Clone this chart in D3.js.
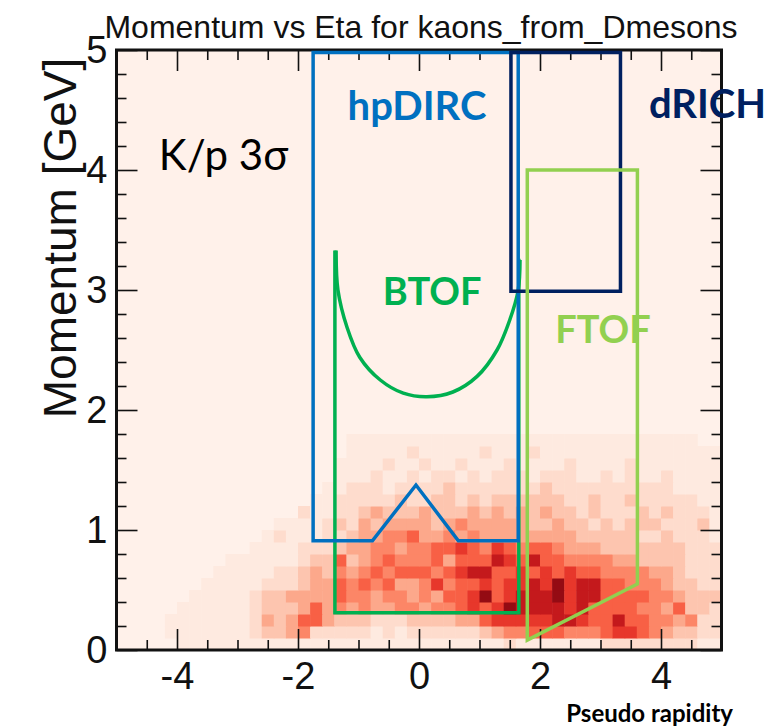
<!DOCTYPE html>
<html><head><meta charset="utf-8">
<script src="https://cdn.jsdelivr.net/npm/d3@7"></script>
<style>body{margin:0;background:#fff}</style>
</head><body><svg id="c" width="769" height="726"></svg>
<script>
// ---------- data ----------
const chartTitle = "Momentum vs Eta for kaons_from_Dmesons";
const xTitle = "Pseudo rapidity";
const yTitle = "Momentum [GeV]";
const etaDomain = [-5, 5];
const pDomain = [0, 5];
const xMajorTicks = [-4, -2, 0, 2, 4];
const yMajorTicks = [0, 1, 2, 3, 4, 5];
const etaBinWidth = 0.2;
const pBinWidth = 0.1;
// 2D histogram intensity (0-9), row 0 = lowest momentum bin, 50 eta bins per row
const heatRows = [
  "0000011111 1111111111 1111111111 1121111111 2222222211",
  "0000111111 1233452222 2121222222 3455666555 6776543322",
  "0000111111 1243466433 3222333344 6777778876 6866554522",
  "0000011111 1233346454 5445545567 6798888786 6665546332",
  "0000001111 1233444465 5455454667 9678889788 6666554333",
  "0000000111 1122234465 6564457566 7677879788 6655543322",
  "0000000011 1112234354 5656665678 8667676766 5555443222",
  "0000000001 1111123363 4565556466 6876866555 5443333222",
  "0000000000 0111122234 4554556676 5765665444 3333333222",
  "0000000000 0012111223 4455644545 4444444433 3332232221",
  "0000000000 0001111232 4344443454 4444334332 3233322231",
  "0000000000 0000021122 3433343334 3434343323 2223232221",
  "0000000000 0000001122 2223223323 2333333223 2232222211",
  "0000000000 0000000112 2212222322 2222232222 2222221111",
  "0000000000 0000000011 1211212212 1222122211 2121121111",
  "0000000000 0000000011 1121121121 1121111211 1121111111",
  "0000000000 0000000001 1111211111 2111211111 1111111111",
  "0000000000 0000000001 1111111111 1111111111 1111111100"
];
// detector acceptance outlines (eta, p)
const hpdircEta = [-1.75, 1.64, 1.64, 0.65, -0.05, -0.77, -1.75];
const hpdircP   = [4.98, 4.98, 0.91, 0.91, 1.375, 0.91, 0.91];
const drichEta  = [1.52, 3.33, 3.33, 1.52];
const drichP    = [4.98, 4.98, 2.99, 2.99];
const ftofEta   = [1.79, 3.61, 3.61, 1.79];
const ftofP     = [4.0, 4.0, 0.55, 0.083];
const btofEta   = [-1.39, -1.39, 1.65, 1.65];
const btofP     = [3.33, 0.31, 0.31, 3.26];
const btofCurveEta = [-1.37, -1.34, -1.19, -0.98, -0.64, -0.26, 0.13, 0.56, 0.96, 1.29, 1.50, 1.64, 1.67];
const btofCurveP   = [3.33, 3.0, 2.69, 2.44, 2.25, 2.14, 2.11, 2.15, 2.28, 2.5, 2.75, 3.0, 3.25];
const labels = [
  {text: "hpDIRC", eta: -1.18, p: 4.42, color: "#0070C0", bold: true, size: 40},
  {text: "dRICH",  eta: 3.8,  p: 4.43, color: "#002060", bold: true, size: 40},
  {text: "BTOF",   eta: -0.6, p: 2.875, color: "#00B050", bold: true, size: 38},
  {text: "FTOF",   eta: 2.25, p: 2.56, color: "#92D050", bold: true, size: 38},
  {text: "K/p 3σ", eta: -4.3, p: 4.0,  color: "#000000", bold: false, size: 42}
];

// ---------- drawing ----------
const svg = d3.select("#c");
const L = 116.5, R = 721.5, T = 50, B = 650;
const x = d3.scaleLinear().domain(etaDomain).range([L, R]);
const y = d3.scaleLinear().domain(pDomain).range([B, T]);
const color = d3.scaleSequentialPow(t => d3.interpolateReds(0.025 + 0.95 * t)).exponent(1.4).domain([0, 9.5]);

svg.append("rect").attr("width", 769).attr("height", 726).attr("fill", "#fff");
svg.append("rect").attr("x", L).attr("y", T).attr("width", R - L).attr("height", B - T).attr("fill", color(0));

const cells = [];
heatRows.forEach((row, j) => {
  row.replace(/ /g, "").split("").forEach((ch, k) => {
    const v = +ch;
    if (v > 0) cells.push({eta: etaDomain[0] + k * etaBinWidth, p: j * pBinWidth, v});
  });
});
svg.append("g").selectAll("rect").data(cells).join("rect")
  .attr("x", d => x(d.eta))
  .attr("y", d => y(d.p + pBinWidth))
  .attr("width", d => x(d.eta + etaBinWidth) - x(d.eta) + 0.5)
  .attr("height", d => y(d.p) - y(d.p + pBinWidth) + 0.5)
  .attr("fill", d => color(d.v));

// axes (ticks inward on all four sides)
const xMinor = d3.range(-5, 5.001, 0.5).filter(v => !xMajorTicks.includes(v));
const yMinor = d3.range(0, 5.001, 0.2).map(v => +v.toFixed(1)).filter(v => !yMajorTicks.includes(v));
const fmt = d => String(d);
function styleAxis(g) {
  g.select(".domain").remove();
  g.selectAll("line").attr("stroke", "#111").attr("stroke-width", 1.6);
  g.selectAll("text").attr("font-family", "Liberation Sans, Arial, sans-serif").attr("font-size", 38).attr("fill", "#111");
}
svg.append("g").attr("transform", `translate(0,${B})`).call(d3.axisBottom(x).tickValues(xMinor).tickSize(-10).tickFormat("")).call(styleAxis);
svg.append("g").attr("transform", `translate(0,${B})`).call(d3.axisBottom(x).tickValues(xMajorTicks).tickSize(-21).tickPadding(12).tickFormat(fmt)).call(styleAxis);
svg.append("g").attr("transform", `translate(0,${T})`).call(d3.axisTop(x).tickValues(xMinor).tickSize(-10).tickFormat("")).call(styleAxis);
svg.append("g").attr("transform", `translate(0,${T})`).call(d3.axisTop(x).tickValues(xMajorTicks).tickSize(-21).tickFormat("")).call(styleAxis);
svg.append("g").attr("transform", `translate(${L},0)`).call(d3.axisLeft(y).tickValues(yMinor).tickSize(-10).tickFormat("")).call(styleAxis);
svg.append("g").attr("transform", `translate(${L},0)`).call(d3.axisLeft(y).tickValues(yMajorTicks).tickSize(-21).tickPadding(9).tickFormat(fmt)).call(styleAxis);
svg.append("g").attr("transform", `translate(${R},0)`).call(d3.axisRight(y).tickValues(yMinor).tickSize(-10).tickFormat("")).call(styleAxis);
svg.append("g").attr("transform", `translate(${R},0)`).call(d3.axisRight(y).tickValues(yMajorTicks).tickSize(-21).tickFormat("")).call(styleAxis);

svg.append("rect").attr("x", L).attr("y", T).attr("width", R - L).attr("height", B - T)
  .attr("fill", "none").attr("stroke", "#111").attr("stroke-width", 3);

// titles
svg.append("text").attr("x", 421).attr("y", 38).attr("text-anchor", "middle")
  .attr("font-family", "Liberation Sans, Arial, sans-serif").attr("font-size", 32).attr("fill", "#111")
  .text(chartTitle);
svg.append("text").attr("transform", "translate(76,238) rotate(-90)").attr("text-anchor", "middle")
  .attr("font-family", "Liberation Sans, Arial, sans-serif").attr("font-size", 46).attr("fill", "#111")
  .text(yTitle);
svg.append("text").attr("x", 733).attr("y", 722).attr("text-anchor", "end")
  .attr("font-family", "Lato, sans-serif").attr("font-weight", "bold").attr("font-size", 24).attr("fill", "#000")
  .text(xTitle);

// outlines
const poly = (es, ps, closed) => (closed ? d3.line().curve(d3.curveLinearClosed) : d3.line())(es.map((e, i) => [x(e), y(ps[i])]));
const outl = svg.append("g").attr("fill", "none").attr("stroke-width", 3.5).attr("stroke-linejoin", "miter");
outl.append("path").attr("d", poly(btofEta, btofP, false)).attr("stroke", "#00B050");
outl.append("path").attr("d", d3.line().curve(d3.curveCatmullRom)(btofCurveEta.map((e, i) => [x(e), y(btofCurveP[i])]))).attr("stroke", "#00B050");
outl.append("path").attr("d", poly(hpdircEta, hpdircP, true)).attr("stroke", "#0070C0");
outl.append("path").attr("d", poly(drichEta, drichP, true)).attr("stroke", "#002060");
outl.append("path").attr("d", poly(ftofEta, ftofP, true)).attr("stroke", "#92D050");

svg.append("g").selectAll("text").data(labels).join("text")
  .attr("x", d => x(d.eta)).attr("y", d => y(d.p))
  .attr("font-family", "Lato, sans-serif")
  .attr("font-weight", d => d.bold ? "bold" : "normal")
  .attr("font-size", d => d.size)
  .attr("fill", d => d.color)
  .text(d => d.text);
</script>
</body></html>
